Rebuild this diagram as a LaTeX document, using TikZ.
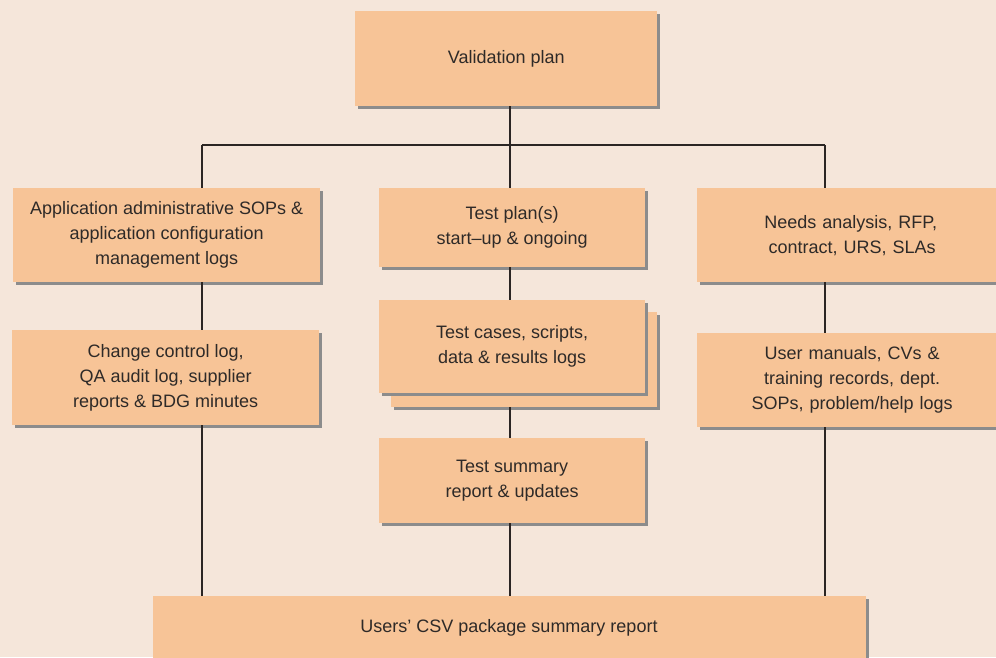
\documentclass[tikz,border=0pt]{standalone}
\usepackage{fontspec}
\setmainfont{Liberation Sans}
\usetikzlibrary{shadows}
\definecolor{pagebg}{HTML}{F5E6DA}
\definecolor{boxfill}{HTML}{F7C497}
\definecolor{inkc}{HTML}{2E2A28}
\definecolor{wirec}{HTML}{2B2523}
\tikzset{
  docbox/.style={rectangle, fill=boxfill, draw=none, anchor=north west,
    inner sep=0pt, align=center, text=inkc,
    font=\fontsize{18}{25}\selectfont,
    drop shadow={shadow xshift=2.5pt, shadow yshift=-2.5pt, fill=black!45, opacity=1}},
  wire/.style={draw=wirec, line width=1.6pt}
}
\begin{document}
\begin{tikzpicture}[x=1pt, y=-1pt]
  \fill[pagebg] (0,0) rectangle (996,657);
  \useasboundingbox (0,0) rectangle (996,657);

  % junction points of the distribution bar
  \coordinate (hub) at (510,145);
  \coordinate (lbar) at (202,145);
  \coordinate (rbar) at (825,145);

  % boxes
  \node[docbox, minimum width=302pt, minimum height=95pt] (vp) at (355,11) {Validation plan};

  \node[docbox, minimum width=307pt, minimum height=94pt] (a1) at (13,188)
    {Application administrative SOPs \&\\application configuration\\management logs};
  \node[docbox, minimum width=307pt, minimum height=95pt] (a2) at (12,330)
    {Change control log,\\QA audit log, supplier\\reports \& BDG minutes};

  \node[docbox, minimum width=266pt, minimum height=79pt] (t1) at (379,188)
    {Test plan(s)\\start--up \& ongoing};
  \node[docbox, minimum width=266pt, minimum height=95pt] (t2b) at (391,312) {};
  \node[docbox, minimum width=266pt, minimum height=93pt] (t2) at (379,300)
    {Test cases, scripts,\\data \& results logs};
  \node[docbox, minimum width=266pt, minimum height=85pt] (t3) at (379,438)
    {Test summary\\report \& updates};

  \node[docbox, minimum width=310pt, minimum height=94pt, text width=300pt] (n1) at (697,188)
    {\hspace*{-3pt}Needs analysis, RFP,\\contract, URS, SLAs};
  \node[docbox, minimum width=310pt, minimum height=94pt, text width=300pt] (n2) at (697,333)
    {User manuals, CVs \&\\training records, dept.\\SOPs, problem/help logs};

  \node[docbox, minimum width=713pt, minimum height=122pt] (bot) at (153,596) {};
  \node[text=inkc, font=\fontsize{18}{22}\selectfont] (botlbl) at (509,628)
    {Users' CSV package summary report};

  % connectors
  \draw[wire] (vp.south -| hub) -- (hub);
  \draw[wire] (lbar) -- (rbar);
  \draw[wire] (lbar) -- (a1.north -| lbar);
  \draw[wire] (a1.south -| lbar) -- (a2.north -| lbar);
  \draw[wire] (a2.south -| lbar) -- (bot.north -| lbar);
  \draw[wire] (hub) -- (t1.north -| hub);
  \draw[wire] (t1.south -| hub) -- (t2.north -| hub);
  \draw[wire] (t2b.south -| hub) -- (t3.north -| hub);
  \draw[wire] (t3.south -| hub) -- (bot.north -| hub);
  \draw[wire] (rbar) -- (n1.north -| rbar);
  \draw[wire] (n1.south -| rbar) -- (n2.north -| rbar);
  \draw[wire] (n2.south -| rbar) -- (bot.north -| rbar);
\end{tikzpicture}
\end{document}
